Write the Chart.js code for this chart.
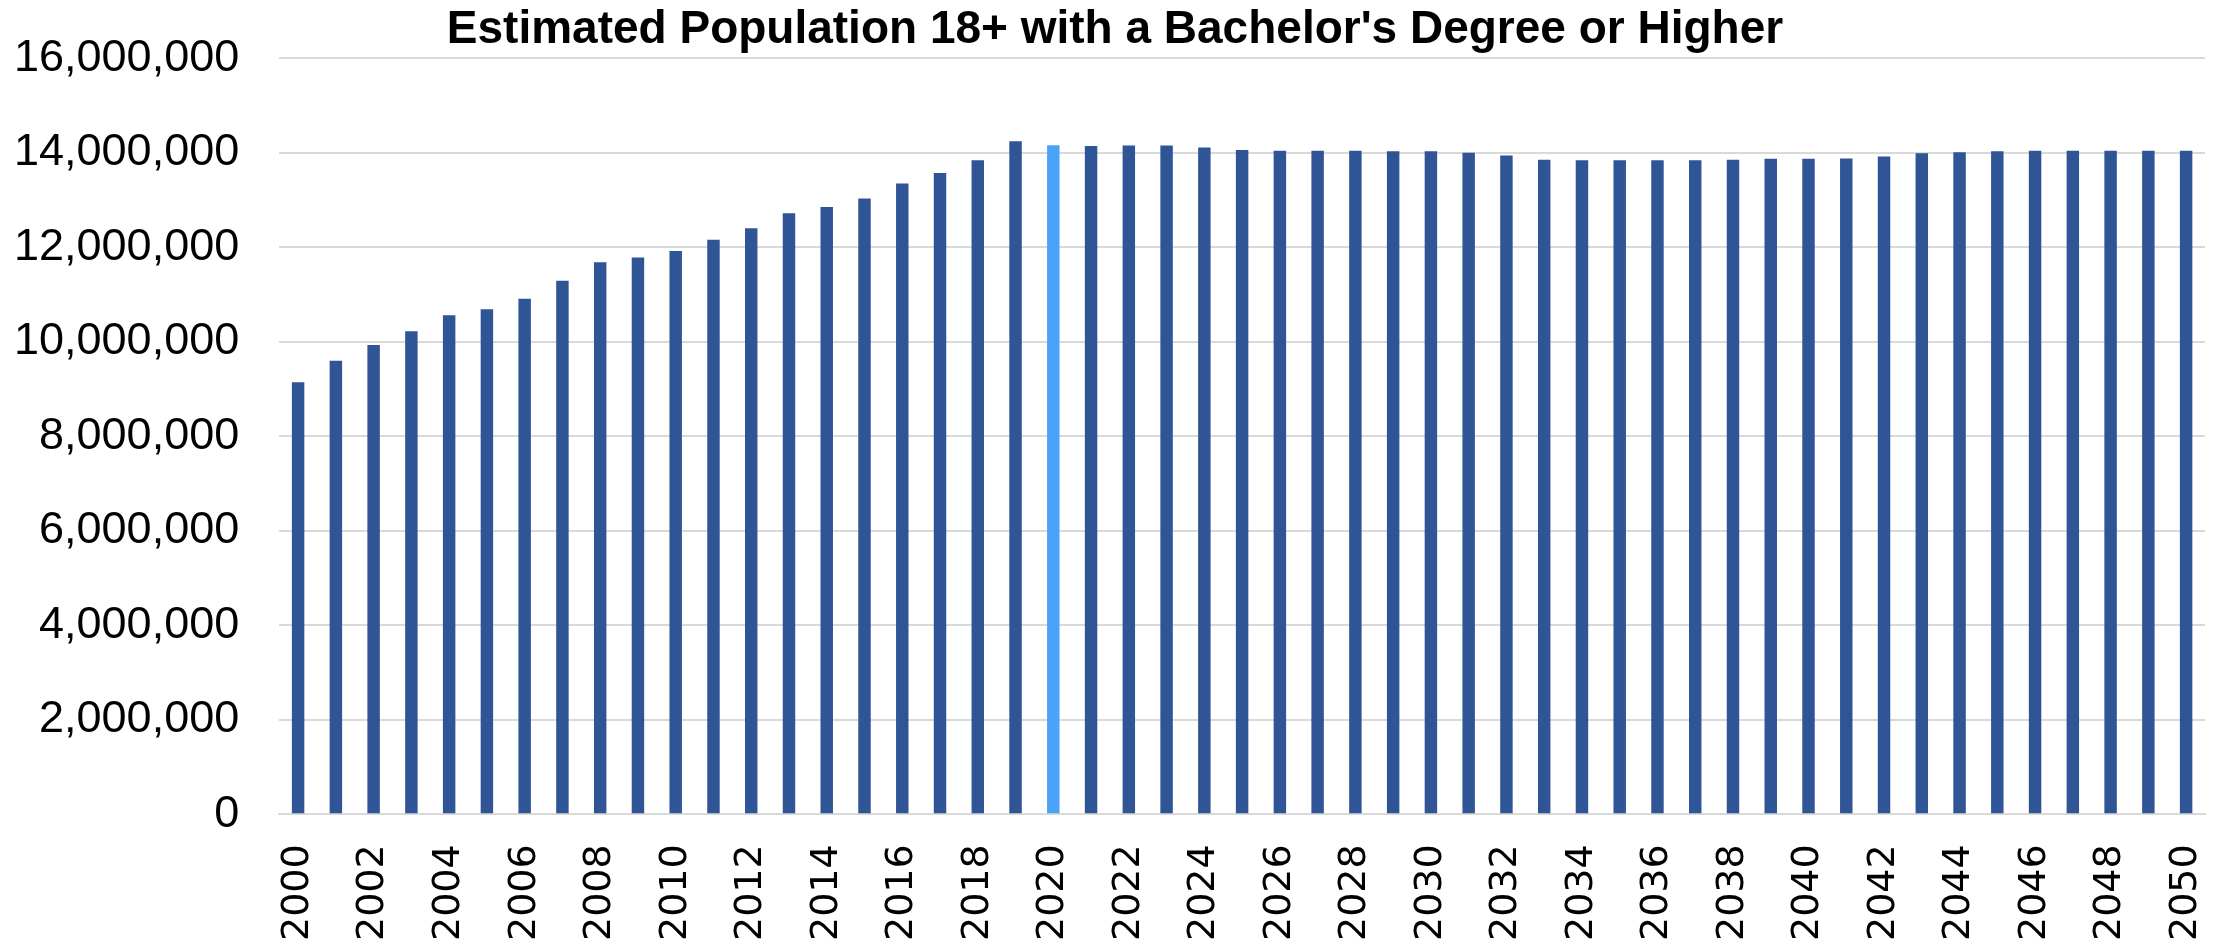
<!DOCTYPE html>
<html>
<head>
<meta charset="utf-8">
<script src="https://cdn.jsdelivr.net/npm/chart.js@4"></script>
<style>
  body { margin: 0; background: #fff; }
</style>
</head>
<body>
<canvas id="myChart" width="2216" height="948"></canvas>
<script>
// years on the x axis
var years = [];
for (var y = 2000; y <= 2050; y++) years.push(String(y));

// estimated population 18+ with a bachelor's degree or higher
var population = [
  9140000, 9600000, 9930000, 10220000, 10560000, 10690000, 10910000, 11290000, 11680000, 11780000,
  11920000, 12160000, 12400000, 12720000, 12850000, 13030000, 13350000, 13570000, 13840000, 14240000,
  14160000, 14140000, 14150000, 14150000, 14110000, 14060000, 14040000, 14040000, 14040000, 14030000,
  14030000, 14000000, 13940000, 13850000, 13840000, 13840000, 13840000, 13840000, 13850000, 13870000,
  13870000, 13880000, 13920000, 13990000, 14010000, 14030000, 14040000, 14040000, 14040000, 14040000,
  14040000
];

var highlightYear = '2020';
var barColors = years.map(function (yr) {
  return yr === highlightYear ? '#4aa3f8' : '#2f5597';
});

// tick paddings; chart.js counts them twice in the axis size, so trim in afterFit
var yPad = 40, xPad = 30;

var ctx = document.getElementById('myChart').getContext('2d');
var chart = new Chart(ctx, {
  type: 'bar',
  data: {
    labels: years,
    datasets: [{
      label: 'Population',
      data: population,
      backgroundColor: barColors,
      barPercentage: 0.33,
      categoryPercentage: 1.0
    }]
  },
  options: {
    responsive: false,
    animation: false,
    devicePixelRatio: 1,
    layout: { padding: { left: 14, right: 0, top: 3, bottom: 7 } },
    plugins: {
      legend: { display: false },
      tooltip: { enabled: false },
      title: {
        display: true,
        text: "Estimated Population 18+ with a Bachelor's Degree or Higher",
        color: '#000',
        font: { family: 'Liberation Sans', size: 46, weight: 'bold' },
        padding: { top: 0, bottom: 0 }
      }
    },
    scales: {
      x: {
        grid: { display: false, drawTicks: false },
        border: { color: '#d9d9d9', width: 2 },
        afterFit: function (s) { s.height -= xPad; s.paddingRight = 11; },
        ticks: {
          color: '#000',
          autoSkip: false,
          minRotation: 90,
          maxRotation: 90,
          padding: xPad,
          font: { family: 'DejaVu Sans', size: 38 },
          callback: function (val, i) { return i % 2 === 0 ? this.getLabelForValue(val) : ''; }
        }
      },
      y: {
        min: 0,
        max: 16000000,
        grid: { color: '#d9d9d9', lineWidth: 2, drawTicks: false },
        border: { display: false },
        afterFit: function (s) { s.width -= yPad; s.paddingTop = 0; s.paddingBottom = 0; },
        ticks: {
          stepSize: 2000000,
          color: '#000',
          padding: yPad,
          font: { family: 'Liberation Sans', size: 45 },
          callback: function (v) { return v.toLocaleString('en-US'); }
        }
      }
    }
  }
});
</script>
</body>
</html>
